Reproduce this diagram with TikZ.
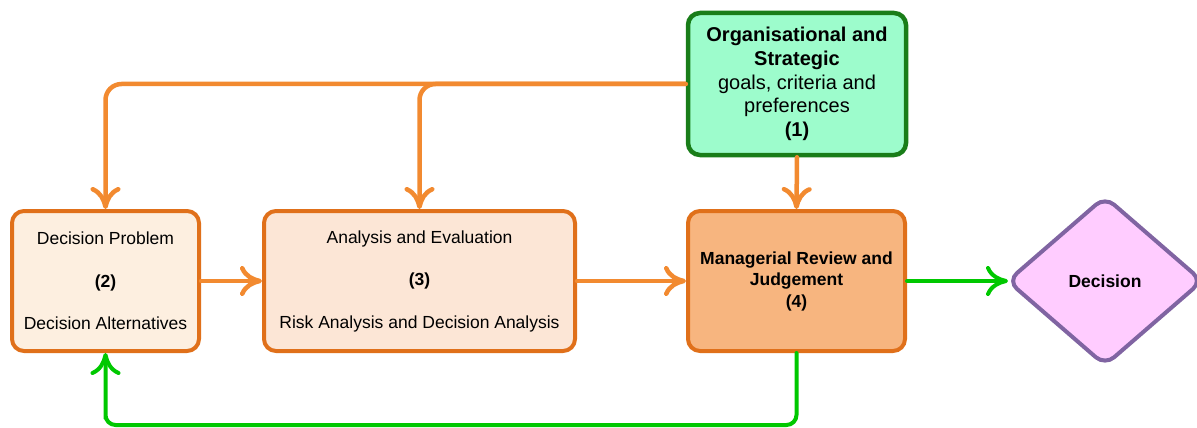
\documentclass[tikz,border=0pt]{standalone}
\usepackage{fontspec}
\setmainfont{Liberation Sans}
\usetikzlibrary{arrows.meta,shapes.geometric,calc}
\definecolor{boxorange}{RGB}{224,112,26}
\definecolor{arrorange}{RGB}{242,138,48}
\definecolor{darkgreen}{RGB}{25,125,25}
\definecolor{mint}{RGB}{157,252,204}
\definecolor{fill2}{RGB}{253,239,224}
\definecolor{fill3}{RGB}{252,230,214}
\definecolor{fill4}{RGB}{247,181,127}
\definecolor{arrgreen}{RGB}{0,200,0}
\definecolor{pinkfill}{RGB}{255,204,255}
\definecolor{purpleline}{RGB}{128,100,162}
\begin{document}
\begin{tikzpicture}[x=1pt,y=-1pt,
  box/.style={draw=boxorange, line width=4pt, rounded corners=12pt, align=center,
    inner sep=0pt, font=\fontsize{17.5}{21.5}\selectfont},
  arr/.style={draw=arrorange, line width=4.5pt, line cap=round,
    -{Computer Modern Rightarrow[length=22pt,width=30pt]}},
  garr/.style={draw=arrgreen, line width=4pt, line cap=round,
    -{Computer Modern Rightarrow[length=22pt,width=30pt]}}]
\useasboundingbox (0,0) rectangle (1197,428);
\node[box, draw=darkgreen, line width=4.5pt, fill=mint, minimum width=218pt, minimum height=142pt,
  font=\fontsize{20}{23.75}\selectfont] (b1) at (797,84)
  {\textbf{Organisational and}\\\textbf{Strategic}\\goals, criteria and\\preferences\\\textbf{(1)}};
\node[box, fill=fill2, minimum width=187pt, minimum height=140pt] (b2) at (105.5,281)
  {Decision Problem\\[21pt]\textbf{(2)}\\[21pt]Decision Alternatives};
\node[box, fill=fill3, minimum width=311pt, minimum height=140pt] (b3) at (419.5,281)
  {Analysis and Evaluation\\[21pt]\textbf{(3)}\\[21pt]Risk Analysis and Decision Analysis};
\node[box, fill=fill4, minimum width=217pt, minimum height=140pt] (b4) at (796.5,281)
  {\textbf{Managerial Review and}\\\textbf{Judgement}\\\textbf{(4)}};
\node[diamond, draw=purpleline, line width=4pt, fill=pinkfill, rounded corners=12pt,
  inner sep=0pt, minimum width=196pt, minimum height=170pt,
  font=\fontsize{17.5}{21.5}\selectfont\bfseries] (d) at (1105,281) {Decision};
\draw[arr, rounded corners=16pt] (b1.west) -| (b2.north);
\draw[arr, rounded corners=16pt] (b1.west) -| (b3.north);
\draw[arr] (b1.south) -- (b4.north);
\draw[arr] (b2.east) -- (b3.west);
\draw[arr] (b3.east) -- (b4.west);
\draw[garr] (b4.east) -- ([xshift=3pt]d.west);
\draw[garr, rounded corners=10pt] (b4.south) |- ($(b2.south)+(0,72)$) -| (b2.south);
\end{tikzpicture}
\end{document}
